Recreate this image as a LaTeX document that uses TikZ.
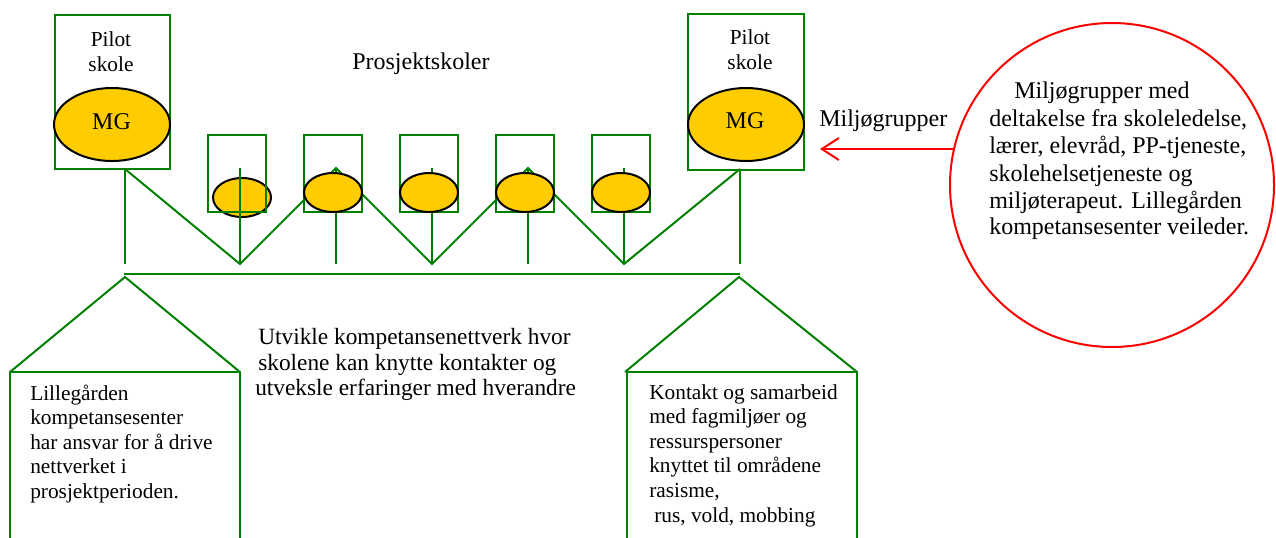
\documentclass[tikz,border=0pt]{standalone}
\usepackage{fontspec}
\setmainfont{Liberation Serif}
\usetikzlibrary{shapes.geometric,arrows.meta}
\definecolor{lgreen}{RGB}{0,128,0}
\definecolor{mgyellow}{RGB}{255,204,0}
\definecolor{cred}{RGB}{255,0,0}
\begin{document}
\begin{tikzpicture}[x=0.75pt,y=-0.75pt,
  gline/.style={draw=lgreen,line width=1.5pt},
  gbox/.style={rectangle,draw=lgreen,line width=1.5pt,inner sep=0pt,outer sep=0pt},
  mgell/.style={ellipse,draw=black,fill=mgyellow,line width=1.5pt,inner sep=0pt,outer sep=0pt},
  txtA/.style={inner sep=0pt,font=\fontsize{16}{18}\selectfont},
  txtB/.style={inner sep=0pt,font=\fontsize{18}{20}\selectfont},
  txtC/.style={inner sep=0pt,font=\fontsize{17.5}{20}\selectfont}]
\useasboundingbox (0,0) rectangle (1276,537);

% pilot schools
\node[gbox,minimum width=86.25pt,minimum height=115.5pt] (P1) at (112.5,92) {};
\node[gbox,minimum width=87pt,minimum height=117pt] (P2) at (746,92) {};
\node[mgell,minimum width=87pt,minimum height=54.75pt] (M1) at (112,124.5) {};
\node[mgell,minimum width=87pt,minimum height=54.75pt] (M2) at (746,124.5) {};
\node[txtB,anchor=base] (MG1) at (111.5,129) {MG};
\node[txtB,anchor=base] (MG2) at (745,128) {MG};
\node[txtA,anchor=base] (p1a) at (111,46) {Pilot};
\node[txtA,anchor=base] (p1b) at (111,71) {skole};
\node[txtA,anchor=base] (p2a) at (750,44) {Pilot};
\node[txtA,anchor=base] (p2b) at (750,69) {skole};

% first small ellipse (behind its box and line)
\node[mgell,minimum width=43.5pt,minimum height=29.25pt] (E1) at (242,197.5) {};
% small boxes
\foreach \i/\x in {1/237,2/333,3/429,4/525,5/621}{
  \node[gbox,minimum width=43.5pt,minimum height=57.75pt] (S\i) at (\x,173.5) {};
}

% joints
\coordinate (t0) at (125,169);
\coordinate (h0) at (125,264);
\coordinate (b1) at (240,264);
\coordinate (v1) at (240,168);
\coordinate (t2) at (336,168);
\coordinate (v2) at (336,264);
\coordinate (b3) at (432,264);
\coordinate (v3) at (432,168);
\coordinate (t4) at (528,168);
\coordinate (v4) at (528,264);
\coordinate (b5) at (624,264);
\coordinate (v5) at (624,168);
\coordinate (t6) at (740,169);
\coordinate (h6) at (740,264);
\draw[gline] (t0) -- (b1) -- (t2) -- (b3) -- (t4) -- (b5) -- (t6);
\draw[gline] (t0) -- (h0);
\draw[gline] (v1) -- (b1);
\draw[gline] (t2) -- (v2);
\draw[gline] (v3) -- (b3);
\draw[gline] (t4) -- (v4);
\draw[gline] (v5) -- (b5);
\draw[gline] (t6) -- (h6);

% other small ellipses over lines
\foreach \i/\x in {2/333,3/429,4/525,5/621}{
  \node[mgell,minimum width=43.5pt,minimum height=29.25pt] (E\i) at (\x,192.5) {};
}

% horizontal bar
\coordinate (hl) at (124,274);
\coordinate (hr) at (740,274);
\draw[gline] (hl) -- (hr);

% left house
\coordinate (a1) at (125,277);
\coordinate (l1) at (10,372);
\coordinate (r1) at (240,372);
\coordinate (l1b) at (10,545);
\coordinate (r1b) at (240,545);
\draw[gline] (l1) -- (a1) -- (r1);
\draw[gline] (l1b) -- (l1) -- (r1) -- (r1b);

% right house
\coordinate (a2) at (739,277);
\coordinate (l2) at (625,372);
\coordinate (r2) at (857,372);
\coordinate (l2b) at (627,545);
\coordinate (r2b) at (857,545);
\coordinate (l2c) at (627,372);
\draw[gline] (l2) -- (a2) -- (r2);
\draw[gline] (l2b) -- (l2c) -- (r2) -- (r2b);

% texts
\node[txtB,anchor=base west] (pros) at (352,69) {Prosjektskoler};
\node[txtB,anchor=base west] (milj) at (819,126) {Miljøgrupper};

\node[txtC,anchor=base west] (c1) at (258,344) {Utvikle kompetansenettverk hvor};
\node[txtC,anchor=base west] (c2) at (258,370) {skolene kan knytte kontakter og};
\node[txtC,anchor=base west] (c3) at (255,395) {utveksle erfaringer med hverandre};

\node[txtA,anchor=base west] (lb1) at (30,400) {Lillegården};
\node[txtA,anchor=base west] (lb2) at (30,424.6) {kompetansesenter};
\node[txtA,anchor=base west] (lb3) at (30,449.2) {har ansvar for å drive};
\node[txtA,anchor=base west] (lb4) at (30,473.8) {nettverket i};
\node[txtA,anchor=base west] (lb5) at (30,498.4) {prosjektperioden.};

\node[txtA,anchor=base west] (rb1) at (649,399) {Kontakt og samarbeid};
\node[txtA,anchor=base west] (rb2) at (649,423.6) {med fagmiljøer og};
\node[txtA,anchor=base west] (rb3) at (649,448.2) {ressurspersoner};
\node[txtA,anchor=base west] (rb4) at (649,472.8) {knyttet til områdene};
\node[txtA,anchor=base west] (rb5) at (649,497.4) {rasisme,};
\node[txtA,anchor=base west] (rb6) at (654,522) {rus, vold, mobbing};

% circle
\node[circle,draw=cred,line width=1.5pt,minimum size=243pt,inner sep=0pt] (C) at (1112,185) {};
\node[txtB,anchor=base west] (k1) at (1014,98) {Miljøgrupper med};
\node[txtB,anchor=base west] (k2) at (989,126) {deltakelse fra skoleledelse,};
\node[txtB,anchor=base west] (k3) at (989,153) {lærer, elevråd, PP-tjeneste,};
\node[txtB,anchor=base west] (k4) at (989,181) {skolehelsetjeneste og};
\node[txtB,anchor=base west] (k5) at (989,208) {miljøterapeut. Lillegården};
\node[txtB,anchor=base west] (k6) at (989,234) {kompetansesenter veileder.};

% arrow
\coordinate (arS) at (953,149);
\coordinate (arE) at (820,149);
\draw[draw=cred,line width=1.5pt,-{Straight Barb[length=12.75pt,width=16.5pt]}] (arS) -- (arE);
\end{tikzpicture}
\end{document}
